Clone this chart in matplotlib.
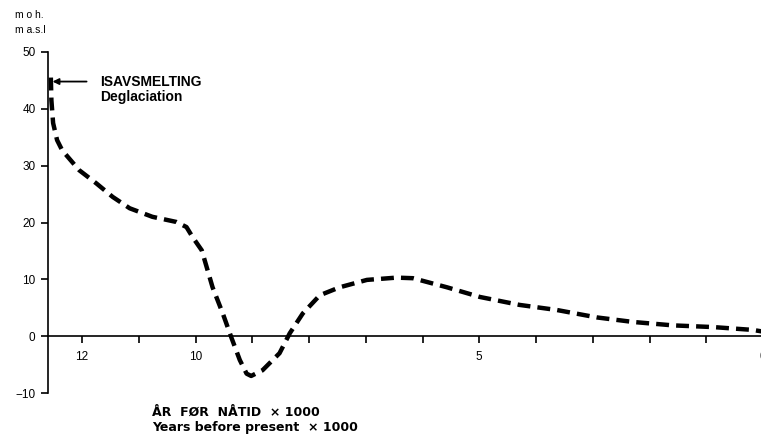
import matplotlib
matplotlib.use('Agg')
import matplotlib.pyplot as plt
from matplotlib.ticker import FixedLocator

plt.rcParams['font.family'] = ['Liberation Sans', 'DejaVu Sans']

# years before present (x 1000) and shoreline level (m a.s.l.)
years = [12.55, 12.54, 12.51, 12.44, 12.35, 12.05, 11.75, 11.46, 11.16, 10.76,
         10.34, 10.16, 10.05, 9.89, 9.70, 9.52, 9.37, 9.22, 9.10, 9.02,
         8.82, 8.52, 8.34, 8.11, 7.81, 7.46, 6.98, 6.46, 6.17, 5.57,
         4.99, 4.29, 3.63, 2.93, 2.29, 1.59, 0.88, 0.18, 0.0]
level = [45.5, 41.5, 37.5, 34.5, 32.7, 29.2, 26.9, 24.5, 22.5, 21.0,
         20.1, 19.2, 17.4, 15.1, 8.6, 4.0, -0.2, -4.2, -6.6, -7.0,
         -6.0, -3.0, 0.5, 4.0, 7.2, 8.6, 9.9, 10.3, 10.2, 8.6,
         6.9, 5.5, 4.6, 3.3, 2.5, 1.9, 1.6, 1.1, 0.8]

x_ticks = list(range(0, 13))
x_labels = {12: '12', 10: '10', 5: '5', 0: '0'}
y_ticks = [-10, 0, 10, 20, 30, 40, 50]

deglaciation_level = 44.8

fig = plt.figure(figsize=(7.61, 4.38), dpi=100)
ax = fig.add_axes([48 / 761, 45 / 438, 715 / 761, 341 / 438])

ax.plot(years, level, color='black', linewidth=3.2,
        linestyle=(0, (2.9, 1.6)), solid_capstyle='butt', dash_capstyle='butt')

ax.set_xlim(12.6, 0)
ax.set_ylim(-10, 50)

for side in ['top', 'right']:
    ax.spines[side].set_visible(False)
ax.spines['bottom'].set_position(('data', 0))
ax.spines['left'].set_linewidth(1.2)
ax.spines['bottom'].set_linewidth(1.2)

ax.xaxis.set_major_locator(FixedLocator(x_ticks))
ax.set_xticklabels([x_labels.get(t, '') for t in x_ticks])
ax.set_yticks(y_ticks)
ax.set_yticklabels([str(t).replace('-', '\u2212') for t in y_ticks])
ax.tick_params(axis='both', direction='out', length=5, width=1.2,
               labelsize=8.5, pad=6)
ax.tick_params(axis='y', pad=4)

ax.annotate('', xy=(12.52, deglaciation_level), xytext=(11.92, deglaciation_level),
            arrowprops=dict(arrowstyle='-|>', color='black', lw=1.3,
                            mutation_scale=9, shrinkA=0, shrinkB=0))
ax.text(11.68, deglaciation_level, 'ISAVSMELTING', fontsize=10,
        fontweight='bold', va='center', ha='left')
ax.text(11.68, deglaciation_level - 2.8, 'Deglaciation', fontsize=10,
        fontweight='bold', va='center', ha='left')

fig.text(15 / 761, 1 - 15 / 438, 'm o h.', fontsize=7.5, va='center', ha='left')
fig.text(15 / 761, 1 - 30 / 438, 'm a.s.l', fontsize=7.5, va='center', ha='left')

fig.text(152 / 761, 1 - 412 / 438, 'ÅR  FØR  NÅTID  \u00d7 1000', fontsize=9,
         family='DejaVu Sans', fontweight='bold', va='center', ha='left')
fig.text(152 / 761, 1 - 428 / 438, 'Years before present  \u00d7 1000', fontsize=9,
         family='DejaVu Sans', fontweight='bold', va='center', ha='left')

fig.savefig('out.png', dpi=100)
